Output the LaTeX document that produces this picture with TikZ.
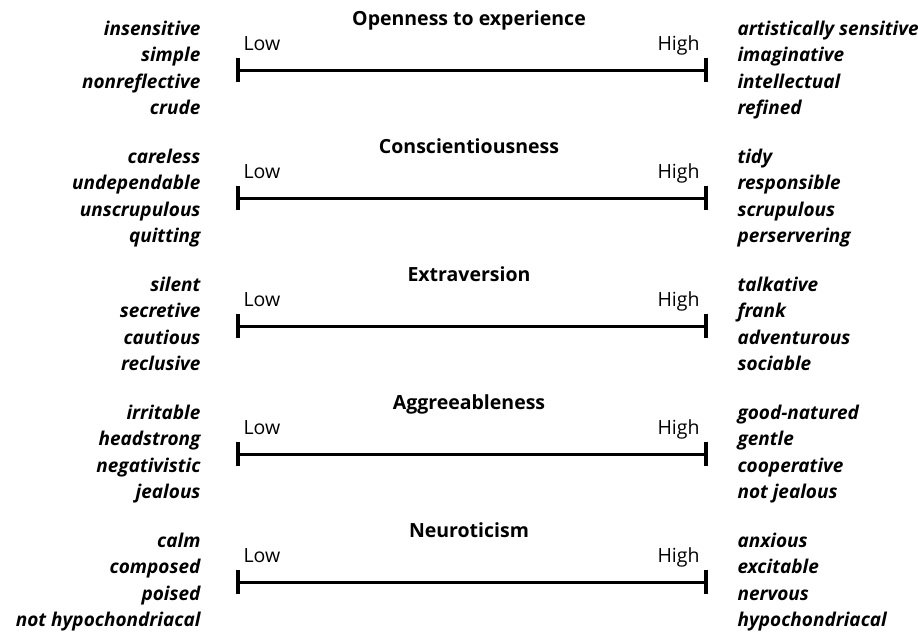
\documentclass[tikz,border=0pt]{standalone}
\usepackage{fontspec}
\setmainfont{Open Sans}
\usetikzlibrary{arrows.meta}
\tikzset{
  lowword/.style={anchor=base east,font=\fontsize{19}{22}\selectfont\bfseries\itshape},
  highword/.style={anchor=base west,font=\fontsize{19}{22}\selectfont\bfseries\itshape},
  trait/.style={anchor=base,font=\fontsize{19.5}{22}\selectfont\bfseries},
  ends/.style={font=\fontsize{19.5}{22}\selectfont},
  scaleline/.style={line width=3pt,{Bar[width=24pt,line width=4pt]}-{Bar[width=24pt,line width=4pt]}}
}
\begin{document}
\begin{tikzpicture}[x=1pt,y=-1pt]
\useasboundingbox (0,0) rectangle (918,635);
% five traits, one row each
\foreach \trait/\lowa/\lowb/\lowc/\lowd/\higha/\highb/\highc/\highd [count=\i] in {
  Openness to experience/insensitive/simple/nonreflective/crude/artistically sensitive/imaginative/intellectual/refined,
  Conscientiousness/careless/undependable/unscrupulous/quitting/tidy/responsible/scrupulous/perservering,
  Extraversion/silent/secretive/cautious/reclusive/talkative/frank/adventurous/sociable,
  Aggreeableness/irritable/headstrong/negativistic/jealous/good-natured/gentle/cooperative/not jealous,
  Neuroticism/calm/composed/poised/not hypochondriacal/anxious/excitable/nervous/hypochondriacal}
{
  \pgfmathsetmacro{\y}{70+128*(\i-1)}
  \coordinate (low\i) at (236,\y);
  \coordinate (high\i) at (708,\y);
  \draw[scaleline] (low\i) -- (high\i);
  \node[trait] (title\i) at (469,\y-45) {\trait};
  \node[ends,anchor=base west] (lowlbl\i) at (240,\y-20) {Low};
  \node[ends,anchor=base east] (highlbl\i) at (703,\y-20) {High};
  % left column
  \node[lowword] (lwa\i) at (204,\y-35) {\lowa};
  \node[lowword] (lwb\i) at (204,\y-8.5) {\lowb};
  \node[lowword] (lwc\i) at (204,\y+18) {\lowc};
  \node[lowword] (lwd\i) at (204,\y+44.5) {\lowd};
  % right column
  \node[highword] (hwa\i) at (734,\y-35) {\higha};
  \node[highword] (hwb\i) at (734,\y-8.5) {\highb};
  \node[highword] (hwc\i) at (734,\y+18) {\highc};
  \node[highword] (hwd\i) at (734,\y+44.5) {\highd};
}
\end{tikzpicture}
\end{document}
